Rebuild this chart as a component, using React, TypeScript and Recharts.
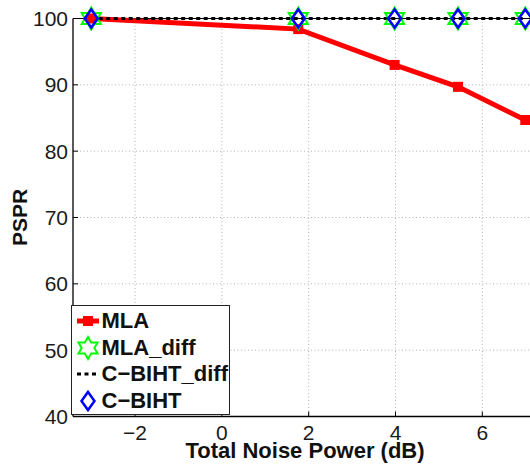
import React from "react";
import {
  LineChart,
  Line,
  XAxis,
  YAxis,
  CartesianGrid,
  Legend,
  ReferenceLine,
  Label,
} from "recharts";

// noise power in dB (10*log10 of 0.5, 1.5, 2.5, 3.5, 5)
const noisePower = [-3.01, 1.76, 3.98, 5.44, 6.99];
const mla = [100, 98.4, 93.0, 89.7, 84.7];
const mlaDiff = [100, 100, 100, 100, 100];
const cbihtDiff = [100, 100, 100, 100, 100];
const cbiht = [100, 100, 100, 100, 100];

const xTicks = [-2, 0, 2, 4, 6];
const yTicks = [40, 50, 60, 70, 80, 90, 100];

const FONT = '"Liberation Sans", Arial, Helvetica, sans-serif';

const data = noisePower.map((x, i) => ({
  x,
  mla: mla[i],
  mlaDiff: mlaDiff[i],
  cbihtDiff: cbihtDiff[i],
  cbiht: cbiht[i],
}));

const fmt = (v: number) => (v < 0 ? `\u2212${Math.abs(v)}` : `${v}`);

const hexagramPoints = (cx: number, cy: number, R: number) => {
  const r = R / Math.sqrt(3);
  const pts: string[] = [];
  for (let k = 0; k < 12; k++) {
    const a = ((-90 + 30 * k) * Math.PI) / 180;
    const rad = k % 2 === 0 ? R : r;
    pts.push(`${cx + rad * Math.cos(a)},${cy + rad * Math.sin(a)}`);
  }
  return pts.join(" ");
};

const SquareDot = (props: any) => {
  const { cx, cy } = props;
  if (cx == null || cy == null) return null;
  return <rect x={cx - 5} y={cy - 5} width={10} height={10} fill="#ff0000" />;
};

const HexagramDot = (props: any) => {
  const { cx, cy } = props;
  if (cx == null || cy == null) return null;
  return (
    <polygon
      points={hexagramPoints(cx, cy, 11)}
      fill="none"
      stroke="#00ff00"
      strokeWidth={2}
    />
  );
};

const DiamondDot = (props: any) => {
  const { cx, cy } = props;
  if (cx == null || cy == null) return null;
  return (
    <polygon
      points={`${cx},${cy - 9} ${cx + 6.5},${cy} ${cx},${cy + 9} ${cx - 6.5},${cy}`}
      fill="none"
      stroke="#0000ff"
      strokeWidth={2.5}
    />
  );
};

const YTick = (props: any) => {
  const { x, y, payload } = props;
  return (
    <g>
      <line x1={x} x2={x + 5} y1={y} y2={y} stroke="#000" />
      <text
        x={x - 5}
        y={y}
        dy="0.35em"
        textAnchor="end"
        fontFamily={FONT}
        fontSize={21}
        fill="#1a1a1a"
      >
        {fmt(payload.value)}
      </text>
    </g>
  );
};

const XTick = (props: any) => {
  const { x, y, payload } = props;
  return (
    <g>
      <line x1={x} x2={x} y1={y} y2={y - 5} stroke="#000" />
      <text
        x={x}
        y={y + 23}
        textAnchor="middle"
        fontFamily={FONT}
        fontSize={21}
        fill="#1a1a1a"
      >
        {fmt(payload.value)}
      </text>
    </g>
  );
};

const legendRows = [
  {
    name: "MLA",
    icon: (
      <g>
        <line x1={5} x2={27} y1={13} y2={13} stroke="#ff0000" strokeWidth={5} />
        <rect x={11} y={8} width={10} height={10} fill="#ff0000" />
      </g>
    ),
  },
  {
    name: "MLA_diff",
    icon: (
      <polygon
        points={hexagramPoints(16, 13, 11)}
        fill="none"
        stroke="#00ff00"
        strokeWidth={2}
      />
    ),
  },
  {
    name: "C\u2212BIHT_diff",
    icon: (
      <line
        x1={5}
        x2={27}
        y1={13}
        y2={13}
        stroke="#000"
        strokeWidth={3}
        strokeDasharray="4 3.5"
      />
    ),
  },
  {
    name: "C\u2212BIHT",
    icon: (
      <polygon
        points="16,4 22.5,13 16,22 9.5,13"
        fill="none"
        stroke="#0000ff"
        strokeWidth={2.5}
      />
    ),
  },
];

const LegendBox = () => (
  <div
    style={{
      width: 159,
      height: 110,
      boxSizing: "border-box",
      border: "1px solid #222",
      background: "#fff",
      paddingTop: 2,
      fontFamily: FONT,
      fontWeight: 700,
      fontSize: 22,
      color: "#111",
    }}
  >
    {legendRows.map((row) => (
      <div
        key={row.name}
        style={{ display: "flex", alignItems: "center", height: 26.5 }}
      >
        <svg width={30} height={26} style={{ flex: "none" }}>
          {row.icon}
        </svg>
        <span style={{ whiteSpace: "nowrap", lineHeight: "26px" }}>
          {row.name}
        </span>
      </div>
    ))}
  </div>
);

export default function App() {
  return (
    <div
      style={{
        position: "absolute",
        left: 0,
        top: 0,
        width: 530,
        height: 466,
        overflow: "hidden",
        background: "#fff",
      }}
    >
      <LineChart
        width={560}
        height={466}
        data={data}
        margin={{ top: 18.5, right: 0, bottom: 0, left: 0 }}
      >
        <CartesianGrid
          stroke="#b4b4b4"
          strokeDasharray="1 2.5"
          horizontalValues={yTicks}
          verticalValues={xTicks}
        />
        <XAxis
          type="number"
          dataKey="x"
          domain={[-3.43, 7.79]}
          ticks={xTicks}
          allowDataOverflow
          height={49.5}
          tickSize={0}
          tickMargin={0}
          tickLine={false}
          axisLine={{ stroke: "#000", strokeWidth: 1.3 }}
          tick={<XTick />}
          interval={0}
        >
          <Label
            content={({ viewBox }: any) => (
              <text
                x={viewBox.x + 232}
                y={viewBox.y + 41.5}
                textAnchor="middle"
                fontFamily={FONT}
                fontWeight={700}
                fontSize={22}
                fill="#111"
              >
                Total Noise Power (dB)
              </text>
            )}
          />
        </XAxis>
        <YAxis
          type="number"
          domain={[40, 100]}
          ticks={yTicks}
          width={73}
          tickSize={0}
          tickMargin={0}
          tickLine={false}
          axisLine={{ stroke: "#000", strokeWidth: 1.3 }}
          tick={<YTick />}
          interval={0}
        >
          <Label
            content={({ viewBox }: any) => {
              const cx = 27;
              const cy = viewBox.y + viewBox.height / 2;
              return (
                <text
                  x={cx}
                  y={cy}
                  transform={`rotate(-90 ${cx} ${cy})`}
                  textAnchor="middle"
                  fontFamily={FONT}
                  fontWeight={700}
                  fontSize={21}
                  fill="#111"
                >
                  PSPR
                </text>
              );
            }}
          />
        </YAxis>
        <ReferenceLine y={100} stroke="#000" strokeWidth={1} />
        <Line
          dataKey="mla"
          name="MLA"
          stroke="#ff0000"
          strokeWidth={5}
          dot={<SquareDot />}
          activeDot={false}
          isAnimationActive={false}
        />
        <Line
          dataKey="mlaDiff"
          name="MLA_diff"
          stroke="none"
          dot={<HexagramDot />}
          activeDot={false}
          isAnimationActive={false}
        />
        <Line
          dataKey="cbihtDiff"
          name="C-BIHT_diff"
          stroke="#000"
          strokeWidth={3}
          strokeDasharray="4 3.5"
          dot={false}
          activeDot={false}
          isAnimationActive={false}
        />
        <Line
          dataKey="cbiht"
          name="C-BIHT"
          stroke="none"
          dot={<DiamondDot />}
          activeDot={false}
          isAnimationActive={false}
        />
        <Legend
          layout="vertical"
          align="center"
          verticalAlign="middle"
          content={() => <LegendBox />}
          wrapperStyle={{ left: 70.5, top: 305, width: 159, height: 110 }}
        />
      </LineChart>
    </div>
  );
}
